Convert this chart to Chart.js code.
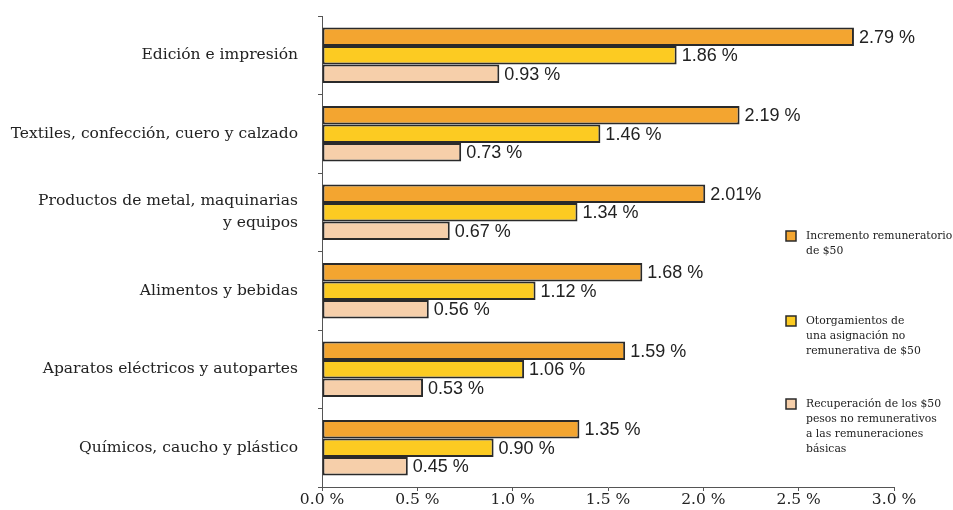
<!DOCTYPE html>
<html>
<head>
<meta charset="utf-8">
<script src="https://cdn.jsdelivr.net/npm/chart.js"></script>
<style>
  html, body { margin: 0; padding: 0; background: #fff; }
</style>
</head>
<body>
<canvas id="grafico" width="953" height="510"></canvas>
<script>
const sectores = [
  'Edición e impresión',
  'Textiles, confección, cuero y calzado',
  ['Productos de metal, maquinarias', 'y equipos'],
  'Alimentos y bebidas',
  'Aparatos eléctricos y autopartes',
  'Químicos, caucho y plástico'
];
const incremento = [2.79, 2.19, 2.01, 1.68, 1.59, 1.35];
const asignacion = [1.86, 1.46, 1.34, 1.12, 1.06, 0.90];
const recuperacion = [0.93, 0.73, 0.67, 0.56, 0.53, 0.45];

const textoIncremento = ['2.79 %', '2.19 %', '2.01%', '1.68 %', '1.59 %', '1.35 %'];
const textoAsignacion = ['1.86 %', '1.46 %', '1.34 %', '1.12 %', '1.06 %', '0.90 %'];
const textoRecuperacion = ['0.93 %', '0.73 %', '0.67 %', '0.56 %', '0.53 %', '0.45 %'];

const series = [
  ['Incremento remuneratorio', 'de $50'],
  ['Otorgamientos de', 'una asignación no', 'remunerativa de $50'],
  ['Recuperación de los $50', 'pesos no remunerativos', 'a las remuneraciones', 'básicas']
];

const colores = ['#f3a530', '#fccb22', '#f6cfaa'];
const borde = '#2a2a2a';
const serif = '"DejaVu Serif", serif';

// etiquetas de valor al final de cada barra
const valores = {
  id: 'valores',
  afterDatasetsDraw(chart) {
    const ctx = chart.ctx;
    const textos = [textoIncremento, textoAsignacion, textoRecuperacion];
    ctx.save();
    ctx.font = '18px "Liberation Sans", Arial, sans-serif';
    ctx.fillStyle = '#222';
    ctx.textBaseline = 'middle';
    ctx.textAlign = 'left';
    chart.data.datasets.forEach((ds, i) => {
      chart.getDatasetMeta(i).data.forEach((bar, j) => {
        ctx.fillText(textos[i][j], bar.x + 5, bar.y + 1);
      });
    });
    ctx.restore();
  }
};

// leyenda a la derecha
const leyenda = {
  id: 'leyenda',
  afterDraw(chart) {
    const ctx = chart.ctx;
    const tops = [231, 316, 399];
    ctx.save();
    ctx.font = '10.8px ' + serif;
    ctx.textBaseline = 'middle';
    series.forEach((lineas, i) => {
      ctx.fillStyle = colores[i];
      ctx.fillRect(786, tops[i], 10, 10);
      ctx.strokeStyle = borde;
      ctx.lineWidth = 1.5;
      ctx.strokeRect(786, tops[i], 10, 10);
      ctx.fillStyle = '#222';
      lineas.forEach((t, k) => ctx.fillText(t, 806, tops[i] + 5 + k * 15));
    });
    ctx.restore();
  }
};

new Chart(document.getElementById('grafico'), {
  type: 'bar',
  data: {
    labels: sectores,
    datasets: [
      { label: series[0].join(' '), data: incremento, backgroundColor: colores[0] },
      { label: series[1].join(' '), data: asignacion, backgroundColor: colores[1] },
      { label: series[2].join(' '), data: recuperacion, backgroundColor: colores[2] }
    ]
  },
  options: {
    indexAxis: 'y',
    responsive: false,
    animation: false,
    layout: { padding: { top: 16, right: 59, left: 0, bottom: 0 } },
    datasets: {
      bar: {
        borderColor: borde,
        borderWidth: 2,
        borderSkipped: false,
        barPercentage: 1,
        categoryPercentage: 0.71
      }
    },
    scales: {
      x: {
        min: 0,
        max: 3,
        ticks: {
          stepSize: 0.5,
          padding: 0,
          color: '#222',
          font: { family: serif, size: 15.5 },
          callback: v => v.toFixed(1) + ' %'
        },
        grid: { drawOnChartArea: false, tickLength: 4, color: '#555' },
        border: { color: '#555' },
        afterFit: s => { s.height = 23; s.paddingLeft = 0; s.paddingRight = 0; }
      },
      y: {
        ticks: {
          padding: 20,
          color: '#222',
          font: { family: serif, size: 15.5, lineHeight: 1.4 }
        },
        grid: { drawOnChartArea: false, tickLength: 4, color: '#555', offset: true },
        border: { color: '#555' },
        afterFit: s => { s.width = 322; s.paddingTop = 0; s.paddingBottom = 0; }
      }
    },
    plugins: {
      legend: { display: false },
      tooltip: { enabled: false }
    }
  },
  plugins: [valores, leyenda]
});
</script>
</body>
</html>
